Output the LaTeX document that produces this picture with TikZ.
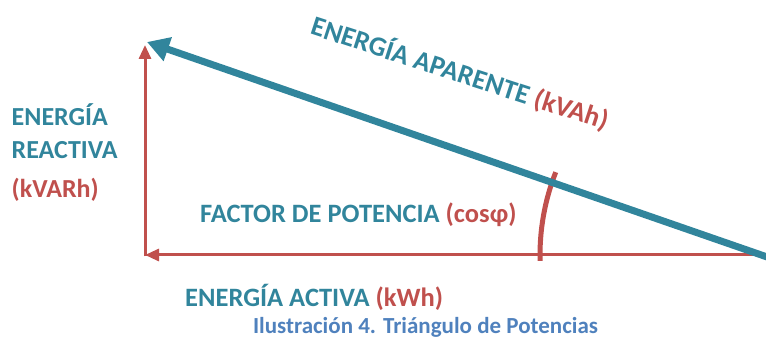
\documentclass[tikz,border=0pt]{standalone}
\usepackage{fontspec}
\setmainfont{Carlito}
\usetikzlibrary{arrows.meta,calc}
\definecolor{teal}{HTML}{31859C}
\definecolor{redd}{HTML}{C0504D}
\definecolor{capblue}{HTML}{4F81BD}
\tikzset{
  lbl/.style={font=\fontsize{26.5}{30}\selectfont\bfseries, text=teal, inner sep=0pt},
  redarrow/.style={draw=redd, line width=3pt, -{Triangle[length=14pt,width=12pt]}},
  bluearrow/.style={draw=teal, line width=7pt, -{Triangle[length=22pt,width=24pt]}},
}
\begin{document}
\begin{tikzpicture}[x=1pt,y=1pt]
\useasboundingbox (0,0) rectangle (766,345);
\coordinate (A) at (145,90);
\coordinate (B) at (770,90);
\coordinate (C) at (145,300);
\coordinate (Bt) at (770,87);
\coordinate (T) at (147,303);
% horizontal
\draw[redarrow] (B) -- (A);
% vertical
\draw[redarrow] ($(A)+(0,-1.5)$) -- (C);
% arc
\draw[redd, line width=5pt] (766,90) ++(181.5:226) arc[start angle=181.5, end angle=158.5, radius=226];
% blue
\draw[bluearrow] (Bt) -- (T);
% labels
\node[lbl, anchor=west, font=\fontsize{26}{30}\selectfont\bfseries] (er1) at (11.5,230) {ENERGÍA};
\node[lbl, anchor=west, font=\fontsize{26}{30}\selectfont\bfseries] (er2) at (11.5,195) {REACTIVA};
\node[lbl, anchor=west, font=\fontsize{26}{30}\selectfont\bfseries, text=redd] (er3) at (11.5,155) {(kVARh)};
\node[lbl, anchor=center, rotate=-18, font=\fontsize{27.5}{31}\selectfont\bfseries] (ap) at (460,272) {ENERGÍA APARENTE \textcolor{redd}{(kVAh)}};
\node[lbl, anchor=west] (fp) at (200,130) {FACTOR DE POTENCIA \textcolor{redd}{(cosφ)}};
\node[lbl, anchor=west] (ea) at (185,48) {ENERGÍA ACTIVA \textcolor{redd}{(kWh)}};
\node[font=\fontsize{23}{27}\selectfont\bfseries, text=capblue, inner sep=0pt] (cap) at (425.5,18) {Ilustración 4. Triángulo de Potencias};
\end{tikzpicture}
\end{document}
